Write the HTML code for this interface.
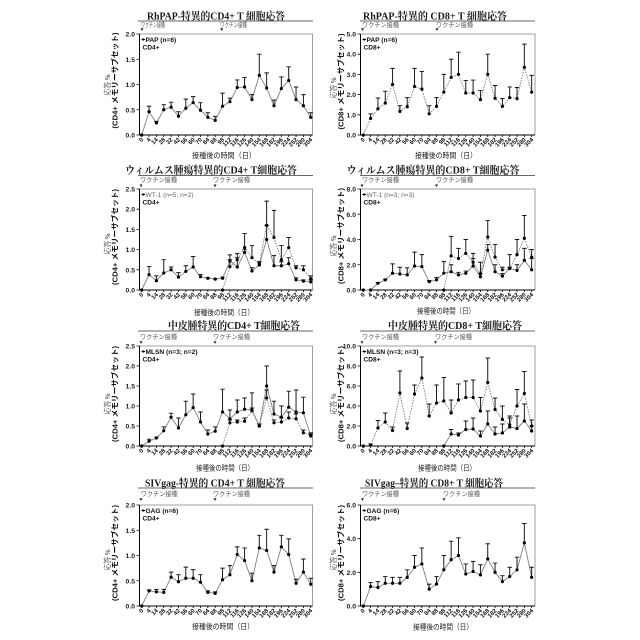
<!DOCTYPE html>
<html><head><meta charset="utf-8">
<style>
html,body{margin:0;padding:0;background:#fff;}
svg{display:block;}
text{font-family:"Liberation Sans","Noto Sans CJK JP",sans-serif;}
.t{font-family:"Liberation Serif","Noto Serif CJK SC",serif;font-size:10.5px;font-weight:bold;fill:#1a1a1a;text-anchor:middle;}
.vx{font-size:6.3px;fill:#555;}
.yt{font-size:6.8px;font-weight:bold;text-anchor:end;fill:#222;}
.xt{font-size:6px;font-weight:bold;text-anchor:end;fill:#111;}
.xl{font-family:"Liberation Serif","Noto Serif CJK SC",serif;font-size:7.5px;text-anchor:middle;fill:#222;}
.yl{font-size:7.5px;font-weight:bold;text-anchor:middle;fill:#111;}
.ys{font-family:"Liberation Serif","Noto Serif CJK SC",serif;font-size:7.5px;text-anchor:middle;fill:#222;}
.lg{font-size:6.6px;font-weight:bold;fill:#111;}
.lg2{font-size:6.6px;fill:#666;}
</style></head>
<body>
<svg width="640" height="640" viewBox="0 0 640 640" xmlns="http://www.w3.org/2000/svg">
<rect width="640" height="640" fill="#fff"/>

<!-- Titles -->
<text class="t" x="216" y="19.5" textLength="138" lengthAdjust="spacingAndGlyphs">RhPAP-特異的CD4+ T 細胞応答</text>
<text class="t" x="435" y="19.5" textLength="144" lengthAdjust="spacingAndGlyphs">RhPAP-特異的 CD8+ T 細胞応答</text>
<text class="t" x="211" y="173.5" textLength="172" lengthAdjust="spacingAndGlyphs">ウィルムス腫瘍特異的CD4+ T細胞応答</text>
<text class="t" x="433" y="173.5" textLength="173" lengthAdjust="spacingAndGlyphs">ウィルムス腫瘍特異的CD8+ T細胞応答</text>
<text class="t" x="234" y="329" textLength="132" lengthAdjust="spacingAndGlyphs">中皮腫特異的CD4+ T細胞応答</text>
<text class="t" x="455" y="329" textLength="134" lengthAdjust="spacingAndGlyphs">中皮腫特異的CD8+ T細胞応答</text>
<text class="t" x="215" y="486.5" textLength="140" lengthAdjust="spacingAndGlyphs">SIVgag-特異的 CD4+ T 細胞応答</text>
<text class="t" x="434" y="486.5" textLength="138" lengthAdjust="spacingAndGlyphs">SIVgag–特異的 CD8+ T 細胞応答</text>

<!-- underlines -->
<path d="M138 21H313M360 21H535M138 175.5H313M360 175.5H535M138 331H313M360 331H535M138 488H313M360 488H535" stroke="#666" stroke-width="1.1"/>

<!-- vaccine labels -->
<text class="vx" x="141" y="27" textLength="24" lengthAdjust="spacingAndGlyphs">ワクチン接種</text>
<text class="vx" x="220" y="27" textLength="27" lengthAdjust="spacingAndGlyphs">ワクチン接種</text>
<text class="vx" x="362" y="27" textLength="37" lengthAdjust="spacingAndGlyphs">ワクチン接種</text>
<text class="vx" x="436" y="27" textLength="37" lengthAdjust="spacingAndGlyphs">ワクチン接種</text>
<text class="vx" x="140" y="182" textLength="37" lengthAdjust="spacingAndGlyphs">ワクチン接種</text>
<text class="vx" x="213" y="182" textLength="37" lengthAdjust="spacingAndGlyphs">ワクチン接種</text>
<text class="vx" x="362" y="182" textLength="37" lengthAdjust="spacingAndGlyphs">ワクチン接種</text>
<text class="vx" x="436" y="182" textLength="37" lengthAdjust="spacingAndGlyphs">ワクチン接種</text>
<text class="vx" x="140" y="339" textLength="37" lengthAdjust="spacingAndGlyphs">ワクチン接種</text>
<text class="vx" x="213" y="339" textLength="37" lengthAdjust="spacingAndGlyphs">ワクチン接種</text>
<text class="vx" x="362" y="339" textLength="37" lengthAdjust="spacingAndGlyphs">ワクチン接種</text>
<text class="vx" x="435" y="339" textLength="37" lengthAdjust="spacingAndGlyphs">ワクチン接種</text>
<text class="vx" x="140.7" y="496" textLength="37" lengthAdjust="spacingAndGlyphs">ワクチン接種</text>
<text class="vx" x="213" y="496" textLength="37" lengthAdjust="spacingAndGlyphs">ワクチン接種</text>
<text class="vx" x="362" y="496" textLength="37" lengthAdjust="spacingAndGlyphs">ワクチン接種</text>
<text class="vx" x="443" y="496" textLength="37" lengthAdjust="spacingAndGlyphs">ワクチン接種</text>
<g fill="#222">
<polygon points="140.5,28.3 143.5,28.3 142,31"/>
<polygon points="220.2,28.3 223.2,28.3 221.7,31"/>
<polygon points="361,28.3 364,28.3 362.5,31"/>
<polygon points="435.5,28.3 438.5,28.3 437,31"/>
<polygon points="139.5,184.5 142.5,184.5 141,187.2"/>
<polygon points="213.5,184.5 216.5,184.5 215,187.2"/>
<polygon points="360.5,184.5 363.5,184.5 362,187.2"/>
<polygon points="435,184.5 438,184.5 436.5,187.2"/>
<polygon points="139.5,341.2 142.5,341.2 141,343.9"/>
<polygon points="213.5,341.2 216.5,341.2 215,343.9"/>
<polygon points="360.5,341.2 363.5,341.2 362,343.9"/>
<polygon points="434,341.2 437,341.2 435.5,343.9"/>
<polygon points="139.5,498.3 142.5,498.3 141,501"/>
<polygon points="213.5,498.3 216.5,498.3 215,501"/>
<polygon points="361,498.3 364,498.3 362.5,501"/>
<polygon points="442.5,498.3 445.5,498.3 444,501"/>
</g>

<!-- data geometry -->
<g id="g"></g>

<!-- Y tick labels -->
<g class="yt">
<text x="135" y="137.5">0.0</text><text x="135" y="112.25">0.5</text><text x="135" y="87">1.0</text><text x="135" y="61.75">1.5</text><text x="135" y="36.5">2.0</text>
<text x="356" y="137.5">0.0</text><text x="356" y="117.3">1.0</text><text x="356" y="97.1">2.0</text><text x="356" y="76.9">3.0</text><text x="356" y="56.7">4.0</text><text x="356" y="36.5">5.0</text>
<text x="135" y="292.5">0.0</text><text x="135" y="272.3">0.5</text><text x="135" y="252.1">1.0</text><text x="135" y="231.9">1.5</text><text x="135" y="211.7">2.0</text><text x="135" y="191.5">2.5</text>
<text x="356" y="292.5">0.0</text><text x="356" y="267.25">2.0</text><text x="356" y="242">4.0</text><text x="356" y="216.75">6.0</text><text x="356" y="191.5">8.0</text>
<text x="135" y="448.5">0.0</text><text x="135" y="428.5">0.5</text><text x="135" y="408.5">1.0</text><text x="135" y="388.5">1.5</text><text x="135" y="368.5">2.0</text><text x="135" y="348.5">2.5</text>
<text x="356" y="448.5">0.0</text><text x="356" y="428.5">2.0</text><text x="356" y="408.5">4.0</text><text x="356" y="388.5">6.0</text><text x="356" y="368.5">8.0</text><text x="356" y="348.5">10.0</text>
<text x="135" y="608.5">0.0</text><text x="135" y="583.25">0.5</text><text x="135" y="558">1.0</text><text x="135" y="532.75">1.5</text><text x="135" y="507.5">2.0</text>
<text x="356" y="608.5">0.0</text><text x="356" y="574.8">2.0</text><text x="356" y="541.2">4.0</text><text x="356" y="507.5">6.0</text>
</g>

<!-- Y axis titles -->
<text class="ys" transform="translate(110,85) rotate(-90)" textLength="21" lengthAdjust="spacingAndGlyphs">応答 %</text>
<text class="yl" transform="translate(117.5,80.5) rotate(-90)" textLength="96" lengthAdjust="spacingAndGlyphs">(CD4+ メモリーサブセット)</text>
<text class="ys" transform="translate(336,88) rotate(-90)" textLength="21" lengthAdjust="spacingAndGlyphs">応答 %</text>
<text class="yl" transform="translate(343.5,81.5) rotate(-90)" textLength="96" lengthAdjust="spacingAndGlyphs">(CD8+ メモリーサブセット)</text>
<text class="ys" transform="translate(110,244) rotate(-90)" textLength="21" lengthAdjust="spacingAndGlyphs">応答 %</text>
<text class="yl" transform="translate(117.5,237) rotate(-90)" textLength="96" lengthAdjust="spacingAndGlyphs">(CD4+ メモリーサブセット)</text>
<text class="ys" transform="translate(336,246) rotate(-90)" textLength="21" lengthAdjust="spacingAndGlyphs">応答 %</text>
<text class="yl" transform="translate(343.5,236) rotate(-90)" textLength="96" lengthAdjust="spacingAndGlyphs">(CD8+ メモリーサブセット)</text>
<text class="ys" transform="translate(110,404) rotate(-90)" textLength="21" lengthAdjust="spacingAndGlyphs">応答 %</text>
<text class="yl" transform="translate(117.5,394) rotate(-90)" textLength="96" lengthAdjust="spacingAndGlyphs">(CD4+ メモリーサブセット)</text>
<text class="ys" transform="translate(336,404) rotate(-90)" textLength="21" lengthAdjust="spacingAndGlyphs">応答 %</text>
<text class="yl" transform="translate(343.5,394) rotate(-90)" textLength="96" lengthAdjust="spacingAndGlyphs">(CD8+ メモリーサブセット)</text>
<text class="ys" transform="translate(110,560) rotate(-90)" textLength="21" lengthAdjust="spacingAndGlyphs">応答 %</text>
<text class="yl" transform="translate(117.5,553) rotate(-90)" textLength="96" lengthAdjust="spacingAndGlyphs">(CD4+ メモリーサブセット)</text>
<text class="ys" transform="translate(336,560) rotate(-90)" textLength="21" lengthAdjust="spacingAndGlyphs">応答 %</text>
<text class="yl" transform="translate(343.5,553) rotate(-90)" textLength="96" lengthAdjust="spacingAndGlyphs">(CD8+ メモリーサブセット)</text>

<!-- X axis titles -->
<g class="xl">
<text x="224" y="158" textLength="64" lengthAdjust="spacingAndGlyphs">接種後の時間（日）</text>
<text x="446" y="158" textLength="62" lengthAdjust="spacingAndGlyphs">接種後の時間（日）</text>
<text x="224" y="315" textLength="60" lengthAdjust="spacingAndGlyphs">接種後の時間（日）</text>
<text x="446" y="313.5" textLength="58" lengthAdjust="spacingAndGlyphs">接種後の時間（日）</text>
<text x="225" y="470.5" textLength="58" lengthAdjust="spacingAndGlyphs">接種後の時間（日）</text>
<text x="447" y="470.5" textLength="58" lengthAdjust="spacingAndGlyphs">接種後の時間（日）</text>
<text x="223" y="629" textLength="62" lengthAdjust="spacingAndGlyphs">接種後の時間（日）</text>
<text x="443" y="629.5" textLength="60" lengthAdjust="spacingAndGlyphs">接種後の時間（日）</text>
</g>

<!-- Legends -->
<g stroke="#000" stroke-width="0.9">
<path d="M141.5 39.5h3.5M362.5 39.5h3.5M141.5 194.5h3.5M362.5 194.5h3.5M141.5 351.5h3.5M362.5 351.5h3.5M141.5 510.5h3.5M362.5 510.5h3.5"/>
</g>
<g fill="#000">
<circle cx="143.2" cy="39.5" r="1.1"/><circle cx="364.2" cy="39.5" r="1.1"/>
<circle cx="143.2" cy="194.5" r="1.1"/><circle cx="364.2" cy="194.5" r="1.1"/>
<circle cx="143.2" cy="351.5" r="1.1"/><circle cx="364.2" cy="351.5" r="1.1"/>
<circle cx="143.2" cy="510.5" r="1.1"/><circle cx="364.2" cy="510.5" r="1.1"/>
</g>
<text class="lg" x="145.5" y="41.8">PAP (n=6)</text><text class="lg" x="142.5" y="49.3">CD4+</text>
<text class="lg" x="366.5" y="41.8">PAP (n=6)</text><text class="lg" x="363.5" y="49.3">CD8+</text>
<text class="lg2" x="145.5" y="196.8">WT-1 (n=5; n=2)</text><text class="lg" x="142.5" y="204.3">CD4+</text>
<text class="lg2" x="366.5" y="196.8">WT-1 (n=3; n=3)</text><text class="lg" x="363.5" y="204.3">CD8+</text>
<text class="lg" x="145.5" y="353.8">MLSN (n=3; n=2)</text><text class="lg" x="142.5" y="361.3">CD4+</text>
<text class="lg" x="366.5" y="353.8">MLSN (n=3; n=3)</text><text class="lg" x="363.5" y="361.3">CD8+</text>
<text class="lg" x="145.5" y="512.8">GAG (n=6)</text><text class="lg" x="142.5" y="520.3">CD4+</text>
<text class="lg" x="366.5" y="512.8">GAG (n=6)</text><text class="lg" x="363.5" y="520.3">CD8+</text>

<!-- X tick labels: left panels -->
<g class="xt" transform="translate(0,140)">
<text transform="translate(143.7 0) rotate(-45)">0</text><text transform="translate(151.1 0) rotate(-45)">4</text><text transform="translate(158.4 0) rotate(-45)">14</text><text transform="translate(165.8 0) rotate(-45)">28</text><text transform="translate(173.1 0) rotate(-45)">32</text><text transform="translate(180.5 0) rotate(-45)">42</text><text transform="translate(187.8 0) rotate(-45)">56</text><text transform="translate(195.2 0) rotate(-45)">60</text><text transform="translate(202.5 0) rotate(-45)">70</text><text transform="translate(209.9 0) rotate(-45)">84</text><text transform="translate(217.2 0) rotate(-45)">88</text><text transform="translate(224.6 0) rotate(-45)">98</text><text transform="translate(231.9 0) rotate(-45)">112</text><text transform="translate(239.3 0) rotate(-45)">116</text><text transform="translate(246.6 0) rotate(-45)">126</text><text transform="translate(254 0) rotate(-45)">140</text><text transform="translate(261.3 0) rotate(-45)">154</text><text transform="translate(268.7 0) rotate(-45)">168</text><text transform="translate(276 0) rotate(-45)">182</text><text transform="translate(283.4 0) rotate(-45)">196</text><text transform="translate(290.7 0) rotate(-45)">224</text><text transform="translate(298.1 0) rotate(-45)">252</text><text transform="translate(305.4 0) rotate(-45)">280</text><text transform="translate(312.8 0) rotate(-45)">304</text>
</g>
<g class="xt" transform="translate(0,295)">
<text transform="translate(143.7 0) rotate(-45)">0</text><text transform="translate(151.1 0) rotate(-45)">4</text><text transform="translate(158.4 0) rotate(-45)">14</text><text transform="translate(165.8 0) rotate(-45)">28</text><text transform="translate(173.1 0) rotate(-45)">32</text><text transform="translate(180.5 0) rotate(-45)">42</text><text transform="translate(187.8 0) rotate(-45)">56</text><text transform="translate(195.2 0) rotate(-45)">60</text><text transform="translate(202.5 0) rotate(-45)">70</text><text transform="translate(209.9 0) rotate(-45)">84</text><text transform="translate(217.2 0) rotate(-45)">88</text><text transform="translate(224.6 0) rotate(-45)">98</text><text transform="translate(231.9 0) rotate(-45)">112</text><text transform="translate(239.3 0) rotate(-45)">116</text><text transform="translate(246.6 0) rotate(-45)">126</text><text transform="translate(254 0) rotate(-45)">140</text><text transform="translate(261.3 0) rotate(-45)">154</text><text transform="translate(268.7 0) rotate(-45)">168</text><text transform="translate(276 0) rotate(-45)">182</text><text transform="translate(283.4 0) rotate(-45)">196</text><text transform="translate(290.7 0) rotate(-45)">224</text><text transform="translate(298.1 0) rotate(-45)">252</text><text transform="translate(305.4 0) rotate(-45)">280</text><text transform="translate(312.8 0) rotate(-45)">304</text>
</g>
<g class="xt" transform="translate(0,451)">
<text transform="translate(143.7 0) rotate(-45)">0</text><text transform="translate(151.1 0) rotate(-45)">4</text><text transform="translate(158.4 0) rotate(-45)">14</text><text transform="translate(165.8 0) rotate(-45)">28</text><text transform="translate(173.1 0) rotate(-45)">32</text><text transform="translate(180.5 0) rotate(-45)">42</text><text transform="translate(187.8 0) rotate(-45)">56</text><text transform="translate(195.2 0) rotate(-45)">60</text><text transform="translate(202.5 0) rotate(-45)">70</text><text transform="translate(209.9 0) rotate(-45)">84</text><text transform="translate(217.2 0) rotate(-45)">88</text><text transform="translate(224.6 0) rotate(-45)">98</text><text transform="translate(231.9 0) rotate(-45)">112</text><text transform="translate(239.3 0) rotate(-45)">116</text><text transform="translate(246.6 0) rotate(-45)">126</text><text transform="translate(254 0) rotate(-45)">140</text><text transform="translate(261.3 0) rotate(-45)">154</text><text transform="translate(268.7 0) rotate(-45)">168</text><text transform="translate(276 0) rotate(-45)">182</text><text transform="translate(283.4 0) rotate(-45)">196</text><text transform="translate(290.7 0) rotate(-45)">224</text><text transform="translate(298.1 0) rotate(-45)">252</text><text transform="translate(305.4 0) rotate(-45)">280</text><text transform="translate(312.8 0) rotate(-45)">304</text>
</g>
<g class="xt" transform="translate(0,611)">
<text transform="translate(143.7 0) rotate(-45)">0</text><text transform="translate(151.1 0) rotate(-45)">4</text><text transform="translate(158.4 0) rotate(-45)">14</text><text transform="translate(165.8 0) rotate(-45)">28</text><text transform="translate(173.1 0) rotate(-45)">32</text><text transform="translate(180.5 0) rotate(-45)">42</text><text transform="translate(187.8 0) rotate(-45)">56</text><text transform="translate(195.2 0) rotate(-45)">60</text><text transform="translate(202.5 0) rotate(-45)">70</text><text transform="translate(209.9 0) rotate(-45)">84</text><text transform="translate(217.2 0) rotate(-45)">88</text><text transform="translate(224.6 0) rotate(-45)">98</text><text transform="translate(231.9 0) rotate(-45)">112</text><text transform="translate(239.3 0) rotate(-45)">116</text><text transform="translate(246.6 0) rotate(-45)">126</text><text transform="translate(254 0) rotate(-45)">140</text><text transform="translate(261.3 0) rotate(-45)">154</text><text transform="translate(268.7 0) rotate(-45)">168</text><text transform="translate(276 0) rotate(-45)">182</text><text transform="translate(283.4 0) rotate(-45)">196</text><text transform="translate(290.7 0) rotate(-45)">224</text><text transform="translate(298.1 0) rotate(-45)">252</text><text transform="translate(305.4 0) rotate(-45)">280</text><text transform="translate(312.8 0) rotate(-45)">304</text>
</g>
<!-- X tick labels: right panels -->
<g class="xt" transform="translate(0,140)">
<text transform="translate(365.3 0) rotate(-45)">0</text><text transform="translate(372.6 0) rotate(-45)">4</text><text transform="translate(379.9 0) rotate(-45)">14</text><text transform="translate(387.3 0) rotate(-45)">28</text><text transform="translate(394.6 0) rotate(-45)">32</text><text transform="translate(401.9 0) rotate(-45)">42</text><text transform="translate(409.2 0) rotate(-45)">56</text><text transform="translate(416.5 0) rotate(-45)">60</text><text transform="translate(423.9 0) rotate(-45)">70</text><text transform="translate(431.2 0) rotate(-45)">84</text><text transform="translate(438.5 0) rotate(-45)">88</text><text transform="translate(445.8 0) rotate(-45)">98</text><text transform="translate(453.1 0) rotate(-45)">112</text><text transform="translate(460.5 0) rotate(-45)">116</text><text transform="translate(467.8 0) rotate(-45)">126</text><text transform="translate(475.1 0) rotate(-45)">140</text><text transform="translate(482.4 0) rotate(-45)">154</text><text transform="translate(489.7 0) rotate(-45)">168</text><text transform="translate(497.1 0) rotate(-45)">182</text><text transform="translate(504.4 0) rotate(-45)">196</text><text transform="translate(511.7 0) rotate(-45)">224</text><text transform="translate(519 0) rotate(-45)">252</text><text transform="translate(526.3 0) rotate(-45)">280</text><text transform="translate(533.7 0) rotate(-45)">304</text>
</g>
<g class="xt" transform="translate(0,295)">
<text transform="translate(365.3 0) rotate(-45)">0</text><text transform="translate(372.6 0) rotate(-45)">4</text><text transform="translate(379.9 0) rotate(-45)">14</text><text transform="translate(387.3 0) rotate(-45)">28</text><text transform="translate(394.6 0) rotate(-45)">32</text><text transform="translate(401.9 0) rotate(-45)">42</text><text transform="translate(409.2 0) rotate(-45)">56</text><text transform="translate(416.5 0) rotate(-45)">60</text><text transform="translate(423.9 0) rotate(-45)">70</text><text transform="translate(431.2 0) rotate(-45)">84</text><text transform="translate(438.5 0) rotate(-45)">88</text><text transform="translate(445.8 0) rotate(-45)">98</text><text transform="translate(453.1 0) rotate(-45)">112</text><text transform="translate(460.5 0) rotate(-45)">116</text><text transform="translate(467.8 0) rotate(-45)">126</text><text transform="translate(475.1 0) rotate(-45)">140</text><text transform="translate(482.4 0) rotate(-45)">154</text><text transform="translate(489.7 0) rotate(-45)">168</text><text transform="translate(497.1 0) rotate(-45)">182</text><text transform="translate(504.4 0) rotate(-45)">196</text><text transform="translate(511.7 0) rotate(-45)">224</text><text transform="translate(519 0) rotate(-45)">252</text><text transform="translate(526.3 0) rotate(-45)">280</text><text transform="translate(533.7 0) rotate(-45)">304</text>
</g>
<g class="xt" transform="translate(0,451)">
<text transform="translate(365.3 0) rotate(-45)">0</text><text transform="translate(372.6 0) rotate(-45)">4</text><text transform="translate(379.9 0) rotate(-45)">14</text><text transform="translate(387.3 0) rotate(-45)">28</text><text transform="translate(394.6 0) rotate(-45)">32</text><text transform="translate(401.9 0) rotate(-45)">42</text><text transform="translate(409.2 0) rotate(-45)">56</text><text transform="translate(416.5 0) rotate(-45)">60</text><text transform="translate(423.9 0) rotate(-45)">70</text><text transform="translate(431.2 0) rotate(-45)">84</text><text transform="translate(438.5 0) rotate(-45)">88</text><text transform="translate(445.8 0) rotate(-45)">98</text><text transform="translate(453.1 0) rotate(-45)">112</text><text transform="translate(460.5 0) rotate(-45)">116</text><text transform="translate(467.8 0) rotate(-45)">126</text><text transform="translate(475.1 0) rotate(-45)">140</text><text transform="translate(482.4 0) rotate(-45)">154</text><text transform="translate(489.7 0) rotate(-45)">168</text><text transform="translate(497.1 0) rotate(-45)">182</text><text transform="translate(504.4 0) rotate(-45)">196</text><text transform="translate(511.7 0) rotate(-45)">224</text><text transform="translate(519 0) rotate(-45)">252</text><text transform="translate(526.3 0) rotate(-45)">280</text><text transform="translate(533.7 0) rotate(-45)">304</text>
</g>
<g class="xt" transform="translate(0,611)">
<text transform="translate(365.3 0) rotate(-45)">0</text><text transform="translate(372.6 0) rotate(-45)">4</text><text transform="translate(379.9 0) rotate(-45)">14</text><text transform="translate(387.3 0) rotate(-45)">28</text><text transform="translate(394.6 0) rotate(-45)">32</text><text transform="translate(401.9 0) rotate(-45)">42</text><text transform="translate(409.2 0) rotate(-45)">56</text><text transform="translate(416.5 0) rotate(-45)">60</text><text transform="translate(423.9 0) rotate(-45)">70</text><text transform="translate(431.2 0) rotate(-45)">84</text><text transform="translate(438.5 0) rotate(-45)">88</text><text transform="translate(445.8 0) rotate(-45)">98</text><text transform="translate(453.1 0) rotate(-45)">112</text><text transform="translate(460.5 0) rotate(-45)">116</text><text transform="translate(467.8 0) rotate(-45)">126</text><text transform="translate(475.1 0) rotate(-45)">140</text><text transform="translate(482.4 0) rotate(-45)">154</text><text transform="translate(489.7 0) rotate(-45)">168</text><text transform="translate(497.1 0) rotate(-45)">182</text><text transform="translate(504.4 0) rotate(-45)">196</text><text transform="translate(511.7 0) rotate(-45)">224</text><text transform="translate(519 0) rotate(-45)">252</text><text transform="translate(526.3 0) rotate(-45)">280</text><text transform="translate(533.7 0) rotate(-45)">304</text>
</g>
</svg>
<script>
(function(){
const L={l:139.5,r:312.5,x0:141.7,dx:7.35}, R={l:360.5,r:535,x0:363.3,dx:7.32};
const rows=[[34,135],[189,290],[346,446],[505,606]];
const P=[
 [L,0,2,0.5,[[0,
  [0,0.46,0.24,0.5,0.55,0.37,0.53,0.64,0.49,0.35,0.29,0.57,0.66,0.94,0.95,0.70,1.18,0.93,0.58,0.92,1.08,0.70,0.58,0.35],
  [0,0.57,0.27,0.6,0.65,0.46,0.71,0.76,0.64,0.44,0.37,0.83,0.73,1.09,1.14,0.8,1.6,1.23,0.69,1.15,1.35,0.95,0.8,0.44],0]]],
 [R,0,5,1,[[0,
  [0,0.82,1.3,1.58,2.5,1.17,1.4,2.4,2.27,1.05,1.42,2.12,2.85,3.0,2.08,2.08,1.75,3.0,1.82,1.42,1.85,1.8,3.35,2.12],
  [0,1.05,1.83,2.17,3.3,1.45,1.85,3.3,3.15,1.45,1.85,3.0,3.75,4.1,2.7,2.72,2.2,4.0,2.45,1.8,2.38,2.35,4.5,2.95],1]]],
 [L,1,2.5,0.5,[[0,
  [0,0.38,0.23,0.42,0.5,0.32,0.46,0.57,0.33,0.29,0.27,0.29,0.72,0.57,0.93,0.47,0.62,1.25,0.6,0.6,0.65,0.25,0.22,0.2],
  [0,0.58,0.35,0.75,0.57,0.43,0.6,0.83,0.38,0.3,0.28,0.32,0.87,0.8,1.0,0.55,0.7,1.6,0.85,0.7,0.8,0.3,0.25,0.25],0],
  [11,[0,0.58,0.75,1.05,0.8,0.65,1.6,1.3,0.75,1.05,0.55,0.5,0.28],
  [0,0.75,0.9,1.4,1.1,0.7,2.2,1.97,1.1,1.3,0.6,0.6,0.35],1]]],
 [R,1,8,2,[[0,
  [0,0,0.53,0.8,1.33,1.27,1.2,1.9,1.85,0.66,0.8,1.33,1.45,1.2,1.33,1.9,1.05,3.15,1.45,1.1,1.7,1.55,2.35,1.6],
  [0,0,0.6,0.85,2.07,1.8,1.75,3.0,2.8,0.75,1.0,2.25,2.0,1.4,1.5,2.5,1.3,3.6,2.0,1.3,1.8,2.0,3.3,2.5],0],
  [11,[0,2.7,2.5,2.9,2.2,1.3,4.2,2.6,1.6,1.7,2.8,4.1,2.6],
  [0,4.25,3.3,4.0,2.9,2.2,5.5,3.6,1.8,2.8,4.0,5.9,3.2],1]]],
 [L,2,2.5,0.5,[[0,
  [0,0.12,0.2,0.38,0.72,0.45,0.78,0.96,0.6,0.3,0.37,0.85,0.68,0.85,0.92,0.9,0.5,1.5,0.8,0.72,0.97,0.85,0.83,0.25],
  [0,0.17,0.22,0.48,0.82,0.7,1.12,1.3,0.85,0.4,0.48,1.42,0.9,1.15,1.2,1.33,0.55,2.0,1.12,1.0,1.37,1.4,1.22,0.33],0],
  [11,[0,0.58,0.6,0.62,0.88,0.5,1.2,0.58,0.6,0.7,0.68,0.33,0.27],
  [0,0.65,0.65,0.7,0.95,0.55,1.4,0.65,0.7,0.85,0.8,0.4,0.3],1]]],
 [R,2,10,2,[[0,
  [0,0.1,1.8,2.4,1.55,5.3,1.75,5.2,6.8,3.0,4.3,4.5,3.3,4.6,4.85,4.85,3.5,6.35,3.65,2.65,2.1,4.0,5.25,2.0],
  [0,0.2,2.55,3.3,1.9,7.5,2.3,6.1,8.9,4.2,6.1,6.85,4.6,6.2,6.5,6.6,4.85,8.8,4.8,4.0,3.0,5.65,7.45,2.6],1],
  [11,[0,1.2,1.1,1.65,1.7,1.0,2.2,1.2,1.3,1.9,1.75,2.5,1.5],
  [0,1.65,1.3,2.5,2.8,1.5,3.5,1.9,2.2,2.8,3.0,4.2,2.0],0]]],
 [L,3,2,0.5,[[0,
  [0,0.3,0.28,0.27,0.57,0.48,0.55,0.55,0.47,0.27,0.25,0.52,0.62,1.02,0.9,0.5,1.15,1.1,0.67,1.17,1.02,0.45,0.67,0.43],
  [0,0.32,0.33,0.33,0.67,0.62,0.77,0.72,0.62,0.3,0.28,0.75,0.8,1.17,1.15,0.65,1.4,1.52,0.8,1.4,1.33,0.53,0.93,0.55],0]]],
 [R,3,6,2,[[0,
  [0,1.15,1.1,1.35,1.35,1.35,1.7,2.3,2.5,1.0,1.3,2.15,2.75,3.0,1.9,2.05,1.85,2.8,2.0,1.45,1.75,2.15,3.75,1.7],
  [0,1.4,1.45,1.75,1.7,1.7,2.15,3.0,3.45,1.3,1.75,3.0,3.85,4.05,2.5,2.65,2.45,3.7,2.55,1.8,2.3,2.9,4.9,2.3],0]]]
];
let h='';
for(const [c,ri,m,st,ss] of P){
  const t=rows[ri][0], b=rows[ri][1];
  const Y=v=>b-v/m*(b-t), X=i=>c.x0+i*c.dx;
  h+='<rect x="'+c.l+'" y="'+t+'" width="'+(c.r-c.l)+'" height="'+(b-t)+'" fill="none" stroke="#888" stroke-width="0.8"/>';
  h+='<path d="M'+c.l+' '+t+'V'+b+'H'+c.r+'" fill="none" stroke="#000" stroke-width="1"/>';
  let d='';
  for(let v=0;v<=m+1e-9;v+=st){const y=Y(v).toFixed(2);d+='M'+(c.l-3)+' '+y+'H'+c.l;}
  for(let i=0;i<24;i++){d+='M'+X(i).toFixed(2)+' '+b+'v2';}
  h+='<path d="'+d+'" stroke="#000" stroke-width="0.8" fill="none"/>';
  for(const [o,v,e,ds] of ss){
    const pts=v.map((val,k)=>X(o+k).toFixed(2)+','+Y(val).toFixed(2)).join(' ');
    h+='<polyline points="'+pts+'" fill="none" stroke="#808080" stroke-width="0.9"'+(ds?' stroke-dasharray="1.6 1.1"':'')+'/>';
    let eb='';
    v.forEach((val,k)=>{ if(e[k]>val+0.001){const x=X(o+k);eb+='M'+x.toFixed(2)+' '+Y(val).toFixed(2)+'V'+Y(e[k]).toFixed(2)+'M'+(x-2.2).toFixed(2)+' '+Y(e[k]).toFixed(2)+'h4.4';}});
    h+='<path d="'+eb+'" stroke="#111" stroke-width="0.95" fill="none"/>';
    v.forEach((val,k)=>{h+='<circle cx="'+X(o+k).toFixed(2)+'" cy="'+Y(val).toFixed(2)+'" r="1.6" fill="#000"/>';});
  }
}
document.getElementById('g').innerHTML=h;
})();
</script>
</body></html>
